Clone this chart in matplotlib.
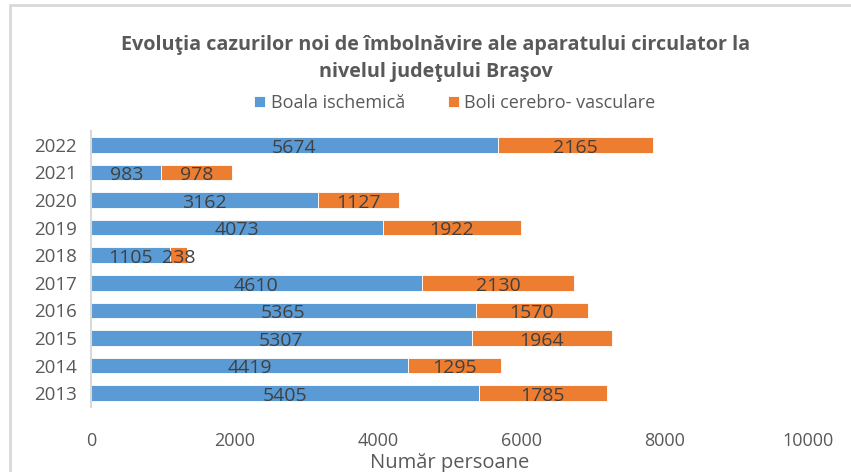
import matplotlib
matplotlib.use("Agg")
import matplotlib.pyplot as plt
from matplotlib.patches import Rectangle
import numpy as np

# ── Data ──────────────────────────────────────────────────────────────────────
years = ["2013", "2014", "2015", "2016", "2017", "2018", "2019", "2020", "2021", "2022"]
ischemic = [5405, 4419, 5307, 5365, 4610, 1105, 4073, 3162, 983, 5674]
cerebro = [1785, 1295, 1964, 1570, 2130, 238, 1922, 1127, 978, 2165]
x_ticks = [0, 2000, 4000, 6000, 8000, 10000]

BLUE = "#5B9BD5"
ORANGE = "#ED7D31"
TICK_C = "#595959"
LABEL_C = "#404040"

plt.rcParams["font.family"] = ["Open Sans", "DejaVu Sans"]

fig = plt.figure(figsize=(8.51, 4.72), dpi=100)
W, H = 851, 472

# outer chart frame (screenshot border)
fig.patches.append(Rectangle((10 / W, -0.05), 1.0, 1 - 5 / H + 0.05,
                             transform=fig.transFigure, fill=False,
                             edgecolor="#D9D9D9", linewidth=2))

ax = fig.add_axes([91 / W, 1 - 407 / H, (808 - 91) / W, (407 - 131) / H])

y = np.arange(len(years))
h = 0.57
b1 = ax.barh(y, ischemic, height=h, color=BLUE, edgecolor="white", linewidth=0.6,
             label="Boala ischemică")
b2 = ax.barh(y, cerebro, left=ischemic, height=h, color=ORANGE, edgecolor="white",
             linewidth=0.6, label="Boli cerebro- vasculare")

for yi, a, c in zip(y, ischemic, cerebro):
    ax.text(a / 2, yi - 0.1, str(a), ha="center", va="center",
            fontsize=14, color=LABEL_C)
    ax.text(a + c / 2, yi - 0.1, str(c), ha="center", va="center",
            fontsize=14, color=LABEL_C)

ax.set_xlim(0, 10000)
ax.set_ylim(-0.5, len(years) - 0.5)
ax.set_yticks(y)
ax.set_yticklabels(years, fontsize=13.5, color=TICK_C)
ax.set_xticks(x_ticks)
ax.set_xticklabels([str(t) for t in x_ticks], fontsize=13, color=TICK_C)
ax.tick_params(axis="both", length=0)
ax.tick_params(axis="x", pad=18)
ax.tick_params(axis="y", pad=10)
for s in ["top", "right", "bottom"]:
    ax.spines[s].set_visible(False)
ax.spines["left"].set_color("#D9D9D9")
ax.spines["left"].set_linewidth(1.5)

ax.set_xlabel("Număr persoane", fontsize=14.5, color=TICK_C, labelpad=2)

fig.text(436 / W, 1 - 45 / H, "Evoluţia cazurilor noi de îmbolnăvire ale aparatului circulator la",
         ha="center", va="center", fontsize=14.2, fontweight="bold", color=TICK_C)
fig.text(436 / W, 1 - 72 / H, "nivelul judeţului Braşov",
         ha="center", va="center", fontsize=14.2, fontweight="bold", color=TICK_C)

fig.legend(handles=[b1, b2], loc="center", bbox_to_anchor=(455 / W, 1 - 103 / H),
           ncol=2, frameon=False, fontsize=13, labelcolor=TICK_C,
           handlelength=0.6, handleheight=0.6, handletextpad=0.3, columnspacing=2.4)

fig.savefig("out.png", dpi=100)
